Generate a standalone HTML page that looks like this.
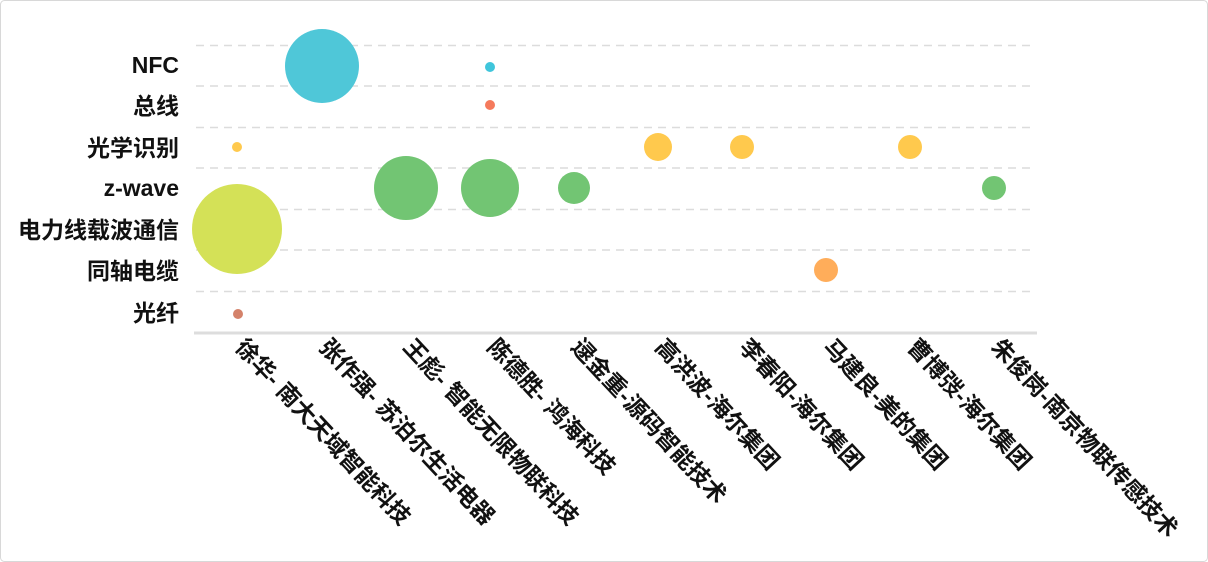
<!DOCTYPE html>
<html><head><meta charset="utf-8"><style>
body{margin:0;background:#fff}
svg{display:block}
text{font-family:"Liberation Sans","Noto Sans CJK SC",sans-serif;font-weight:bold;font-size:23px;fill:#111}
</style></head><body>
<svg width="1208" height="562" viewBox="0 0 1208 562">
<rect x="0.5" y="0.5" width="1207" height="561" rx="4" fill="#fff" stroke="#d8d8d8"/>
<g stroke="#dcdcdc" stroke-width="1.5" stroke-dasharray="8,6">
<line x1="196" x2="1035" y1="45.5" y2="45.5"/><line x1="196" x2="1035" y1="86" y2="86"/>
<line x1="196" x2="1035" y1="127.5" y2="127.5"/><line x1="196" x2="1035" y1="168" y2="168"/>
<line x1="196" x2="1035" y1="209.5" y2="209.5"/><line x1="196" x2="1035" y1="250" y2="250"/>
<line x1="196" x2="1035" y1="291.5" y2="291.5"/>
</g>
<line x1="194" x2="1037" y1="333" y2="333" stroke="#ddd" stroke-width="3"/>
<g text-anchor="end">
<text x="179" y="73">NFC</text><text x="179" y="114">总线</text><text x="179" y="156">光学识别</text>
<text x="179" y="196">z-wave</text><text x="179" y="238">电力线载波通信</text><text x="179" y="279">同轴电缆</text>
<text x="179" y="321">光纤</text>
</g>
<circle cx="237" cy="229" r="45" fill="#d4e157"/>
<circle cx="237" cy="147" r="5" fill="#ffc94d"/>
<circle cx="238" cy="314" r="5" fill="#d4826a"/>
<circle cx="322" cy="66" r="37" fill="#4fc7d8"/>
<circle cx="406" cy="188" r="32" fill="#72c573"/>
<circle cx="490" cy="188" r="29" fill="#72c573"/>
<circle cx="490" cy="67" r="5" fill="#3fc5db"/>
<circle cx="490" cy="105" r="5" fill="#f57a5c"/>
<circle cx="574" cy="188" r="16" fill="#72c573"/>
<circle cx="658" cy="147" r="14" fill="#ffc94d"/>
<circle cx="742" cy="147" r="12" fill="#ffc94d"/>
<circle cx="826" cy="270" r="12" fill="#ffad5a"/>
<circle cx="910" cy="147" r="12" fill="#ffc94d"/>
<circle cx="994" cy="188" r="12" fill="#72c573"/>
<g>
<text transform="translate(234,348) rotate(47)">徐华- 南大天域智能科技</text>
<text transform="translate(318,348) rotate(47)">张作强- 苏泊尔生活电器</text>
<text transform="translate(402,348) rotate(47)">王彪- 智能无限物联科技</text>
<text transform="translate(486,348) rotate(47)">陈德胜- 鸿海科技</text>
<text transform="translate(570,348) rotate(47)">逯金重-源码智能技术</text>
<text transform="translate(654,348) rotate(47)">高洪波-海尔集团</text>
<text transform="translate(738,348) rotate(47)">李春阳-海尔集团</text>
<text transform="translate(822,348) rotate(47)">马建良-美的集团</text>
<text transform="translate(906,348) rotate(47)">曹博弢-海尔集团</text>
<text transform="translate(990,348) rotate(47)">朱俊岗-南京物联传感技术</text>
</g>
</svg>
</body></html>
